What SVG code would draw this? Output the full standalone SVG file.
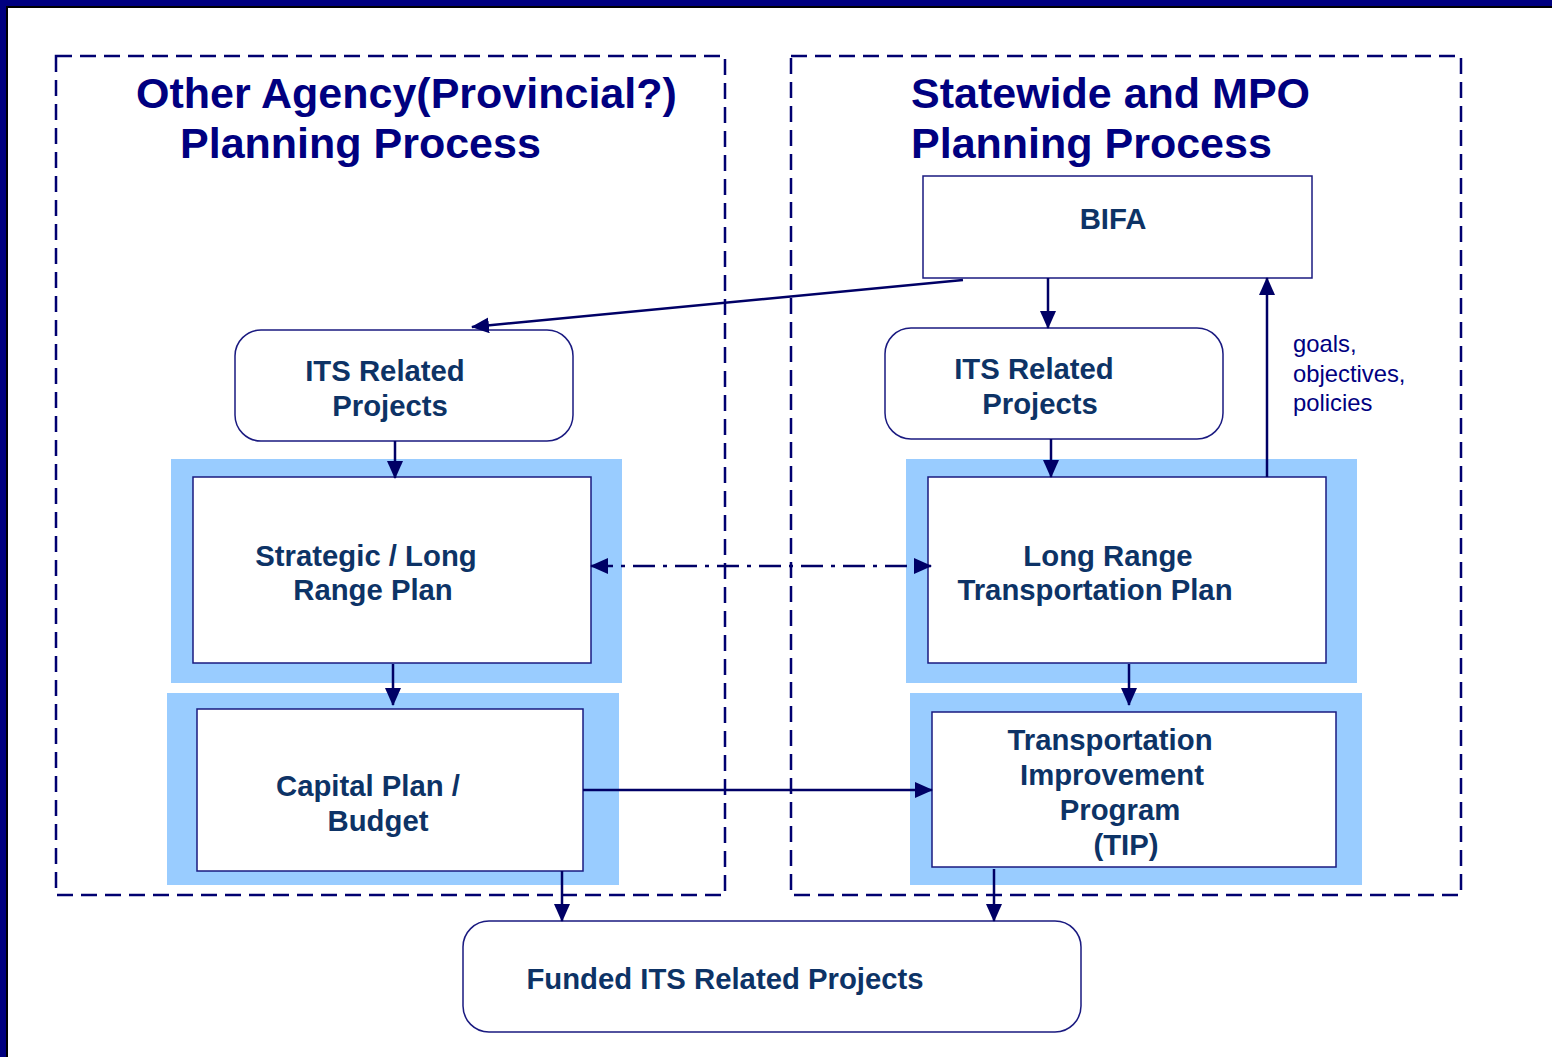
<svg xmlns="http://www.w3.org/2000/svg" width="1552" height="1057" viewBox="0 0 1552 1057">
<defs>
<style>
.frame{fill:none;stroke:#000070;stroke-width:2.5;stroke-dasharray:16 8}
.title{font-family:"Liberation Sans",Arial,sans-serif;font-weight:bold;font-size:43px;fill:#000080}
.lbl{font-family:"Liberation Sans",Arial,sans-serif;font-weight:bold;font-size:29.3px;fill:#0d3366;text-anchor:middle}
.note{font-family:"Liberation Sans",Arial,sans-serif;font-size:23.8px;fill:#000080}
.box{fill:#fff;stroke:#1a1a80;stroke-width:1.5}
.band{fill:#99ccff}
.con{fill:none;stroke:#000066;stroke-width:2.5}
</style>
<marker id="ah" markerUnits="userSpaceOnUse" markerWidth="18" markerHeight="16" viewBox="0 0 18 16" refX="17" refY="8" orient="auto-start-reverse">
<path d="M0,0 L18,8 L0,16 Z" fill="#000066"/>
</marker>
</defs>
<rect width="1552" height="1057" fill="#fff"/>
<rect x="0" y="0" width="1552" height="8" fill="#000"/>
<rect x="0" y="0" width="8" height="1057" fill="#000"/>
<rect x="0" y="0" width="1552" height="6" fill="#000080"/>
<rect x="0" y="0" width="6" height="1057" fill="#000080"/>

<g id="left-process">
<rect class="frame" x="56" y="56" width="669" height="839"/>
<text class="title" x="136" y="108">Other Agency(Provincial?)</text>
<text class="title" x="180" y="158">Planning Process</text>
</g>
<g id="right-process">
<rect class="frame" x="791" y="56" width="670" height="839"/>
<text class="title" x="911" y="108">Statewide and MPO</text>
<text class="title" x="911" y="158">Planning Process</text>
</g>

<g id="bifa">
<rect class="box" x="923" y="176" width="389" height="102"/>
<text class="lbl" x="1113" y="229">BIFA</text>
</g>
<g id="its-left">
<rect class="box" x="235" y="330" width="338" height="111" rx="26"/>
<text class="lbl" x="385" y="381">ITS Related</text>
<text class="lbl" x="390" y="416">Projects</text>
</g>
<g id="its-right">
<rect class="box" x="885" y="328" width="338" height="111" rx="26"/>
<text class="lbl" x="1034" y="379">ITS Related</text>
<text class="lbl" x="1040" y="414">Projects</text>
</g>
<g id="strategic-plan">
<rect class="band" x="171" y="459" width="451" height="224"/>
<rect class="box" x="193" y="477" width="398" height="186"/>
<text class="lbl" x="366" y="566">Strategic / Long</text>
<text class="lbl" x="373" y="600">Range Plan</text>
</g>
<g id="capital-plan">
<rect class="band" x="167" y="693" width="452" height="192"/>
<rect class="box" x="197" y="709" width="386" height="162"/>
<text class="lbl" x="368" y="796">Capital Plan /</text>
<text class="lbl" x="378" y="831">Budget</text>
</g>
<g id="lrtp">
<rect class="band" x="906" y="459" width="451" height="224"/>
<rect class="box" x="928" y="477" width="398" height="186"/>
<text class="lbl" x="1108" y="566">Long Range</text>
<text class="lbl" x="1095" y="600">Transportation Plan</text>
</g>
<g id="tip">
<rect class="band" x="910" y="693" width="452" height="192"/>
<rect class="box" x="932" y="712" width="404" height="155"/>
<text class="lbl" x="1110" y="750">Transportation</text>
<text class="lbl" x="1112" y="785">Improvement</text>
<text class="lbl" x="1120" y="820">Program</text>
<text class="lbl" x="1126" y="855">(TIP)</text>
</g>
<g id="funded">
<rect class="box" x="463" y="921" width="618" height="111" rx="26"/>
<text class="lbl" x="725" y="989">Funded ITS Related Projects</text>
</g>

<g id="connectors">
<line class="con" x1="963" y1="280" x2="472" y2="327" marker-end="url(#ah)"/>
<line class="con" x1="1048" y1="278" x2="1048" y2="328" marker-end="url(#ah)"/>
<line class="con" x1="395" y1="441" x2="395" y2="478" marker-end="url(#ah)"/>
<line class="con" x1="1051" y1="439" x2="1051" y2="477" marker-end="url(#ah)"/>
<line class="con" x1="1267" y1="477" x2="1267" y2="278" marker-end="url(#ah)"/>
<line class="con" x1="591" y1="566" x2="931" y2="566" stroke-dasharray="22 8 4 8" marker-start="url(#ah)" marker-end="url(#ah)"/>
<line class="con" x1="393" y1="664" x2="393" y2="705" marker-end="url(#ah)"/>
<line class="con" x1="1129" y1="664" x2="1129" y2="705" marker-end="url(#ah)"/>
<line class="con" x1="583" y1="790" x2="932" y2="790" marker-end="url(#ah)"/>
<line class="con" x1="562" y1="871" x2="562" y2="921" marker-end="url(#ah)"/>
<line class="con" x1="994" y1="869" x2="994" y2="921" marker-end="url(#ah)"/>
<text class="note" x="1293" y="352">goals,</text>
<text class="note" x="1293" y="382">objectives,</text>
<text class="note" x="1293" y="411">policies</text>
</g>
</svg>
